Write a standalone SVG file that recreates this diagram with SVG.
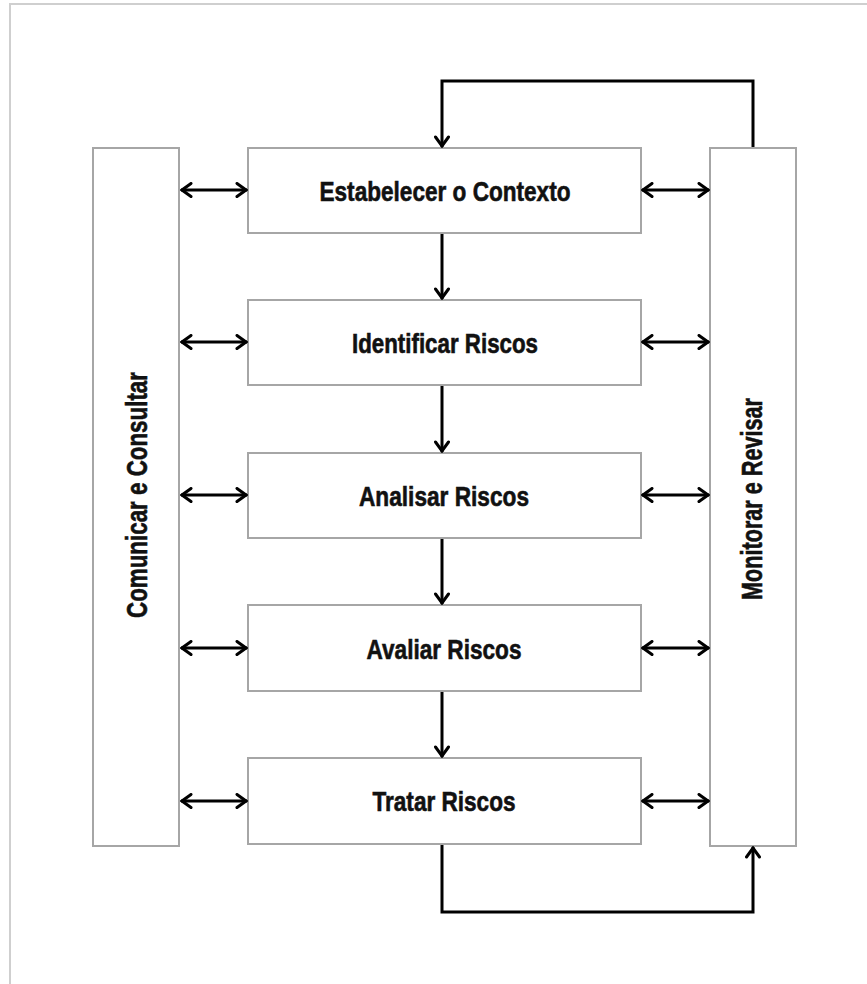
<svg xmlns="http://www.w3.org/2000/svg" width="867" height="984" viewBox="0 0 867 984">
<style>
.box{fill:#ffffff;stroke:#a6a6a6;stroke-width:2}
.lbl{font-family:"Liberation Sans",Arial,sans-serif;font-weight:bold;font-size:27px;fill:#111;stroke:#111;stroke-width:0.6;text-anchor:middle}
.vl{font-size:29px}
.con{fill:none;stroke:#000;stroke-width:3}
.frame{fill:none;stroke:#cfcfcf;stroke-width:2}
</style>
<defs>
<marker id="ah" markerUnits="userSpaceOnUse" viewBox="0 0 13 16" refX="12" refY="8" markerWidth="13" markerHeight="16" orient="auto-start-reverse">
<path d="M2,1.5 L11,8 L2,14.5" fill="none" stroke="#000" stroke-width="3" stroke-linecap="round" stroke-linejoin="miter"/>
</marker>
</defs>
<rect width="867" height="984" fill="#ffffff"/>
<path class="frame" d="M10,984 V4 H867"/>
<g id="comunicar">
<rect class="box" x="93" y="148" width="86" height="698"/>
<text class="lbl vl" transform="translate(147,495) rotate(-90)" textLength="246" lengthAdjust="spacingAndGlyphs">Comunicar e Consultar</text>
</g>
<g id="monitorar">
<rect class="box" x="710" y="148" width="86" height="698"/>
<text class="lbl vl" transform="translate(762,499) rotate(-90)" textLength="202" lengthAdjust="spacingAndGlyphs">Monitorar e Revisar</text>
</g>
<g id="estabelecer">
<rect class="box" x="248" y="148" width="393" height="85"/>
<text class="lbl" x="445" y="201" textLength="251" lengthAdjust="spacingAndGlyphs">Estabelecer o Contexto</text>
</g>
<g id="identificar">
<rect class="box" x="248" y="300" width="393" height="85"/>
<text class="lbl" x="445" y="353" textLength="186" lengthAdjust="spacingAndGlyphs">Identificar Riscos</text>
</g>
<g id="analisar">
<rect class="box" x="248" y="453" width="393" height="85"/>
<text class="lbl" x="444" y="506" textLength="170" lengthAdjust="spacingAndGlyphs">Analisar Riscos</text>
</g>
<g id="avaliar">
<rect class="box" x="248" y="605" width="393" height="86"/>
<text class="lbl" x="444" y="659" textLength="155" lengthAdjust="spacingAndGlyphs">Avaliar Riscos</text>
</g>
<g id="tratar">
<rect class="box" x="248" y="758" width="393" height="86"/>
<text class="lbl" x="444" y="811" textLength="143" lengthAdjust="spacingAndGlyphs">Tratar Riscos</text>
</g>
<g id="connectors">
<line class="con" x1="442" y1="234" x2="442" y2="299" marker-end="url(#ah)"/>
<line class="con" x1="442" y1="386" x2="442" y2="452" marker-end="url(#ah)"/>
<line class="con" x1="442" y1="539" x2="442" y2="604" marker-end="url(#ah)"/>
<line class="con" x1="442" y1="692" x2="442" y2="757" marker-end="url(#ah)"/>
<line class="con" x1="181" y1="190" x2="247" y2="190" marker-start="url(#ah)" marker-end="url(#ah)"/>
<line class="con" x1="181" y1="342" x2="247" y2="342" marker-start="url(#ah)" marker-end="url(#ah)"/>
<line class="con" x1="181" y1="495" x2="247" y2="495" marker-start="url(#ah)" marker-end="url(#ah)"/>
<line class="con" x1="181" y1="648" x2="247" y2="648" marker-start="url(#ah)" marker-end="url(#ah)"/>
<line class="con" x1="181" y1="801" x2="247" y2="801" marker-start="url(#ah)" marker-end="url(#ah)"/>
<line class="con" x1="642" y1="190" x2="709" y2="190" marker-start="url(#ah)" marker-end="url(#ah)"/>
<line class="con" x1="642" y1="342" x2="709" y2="342" marker-start="url(#ah)" marker-end="url(#ah)"/>
<line class="con" x1="642" y1="495" x2="709" y2="495" marker-start="url(#ah)" marker-end="url(#ah)"/>
<line class="con" x1="642" y1="648" x2="709" y2="648" marker-start="url(#ah)" marker-end="url(#ah)"/>
<line class="con" x1="642" y1="801" x2="709" y2="801" marker-start="url(#ah)" marker-end="url(#ah)"/>
<path class="con" d="M753,147 V81 H442 V147" marker-end="url(#ah)"/>
<path class="con" d="M442,845 V912 H753 V847" marker-end="url(#ah)"/>
</g>
</svg>
